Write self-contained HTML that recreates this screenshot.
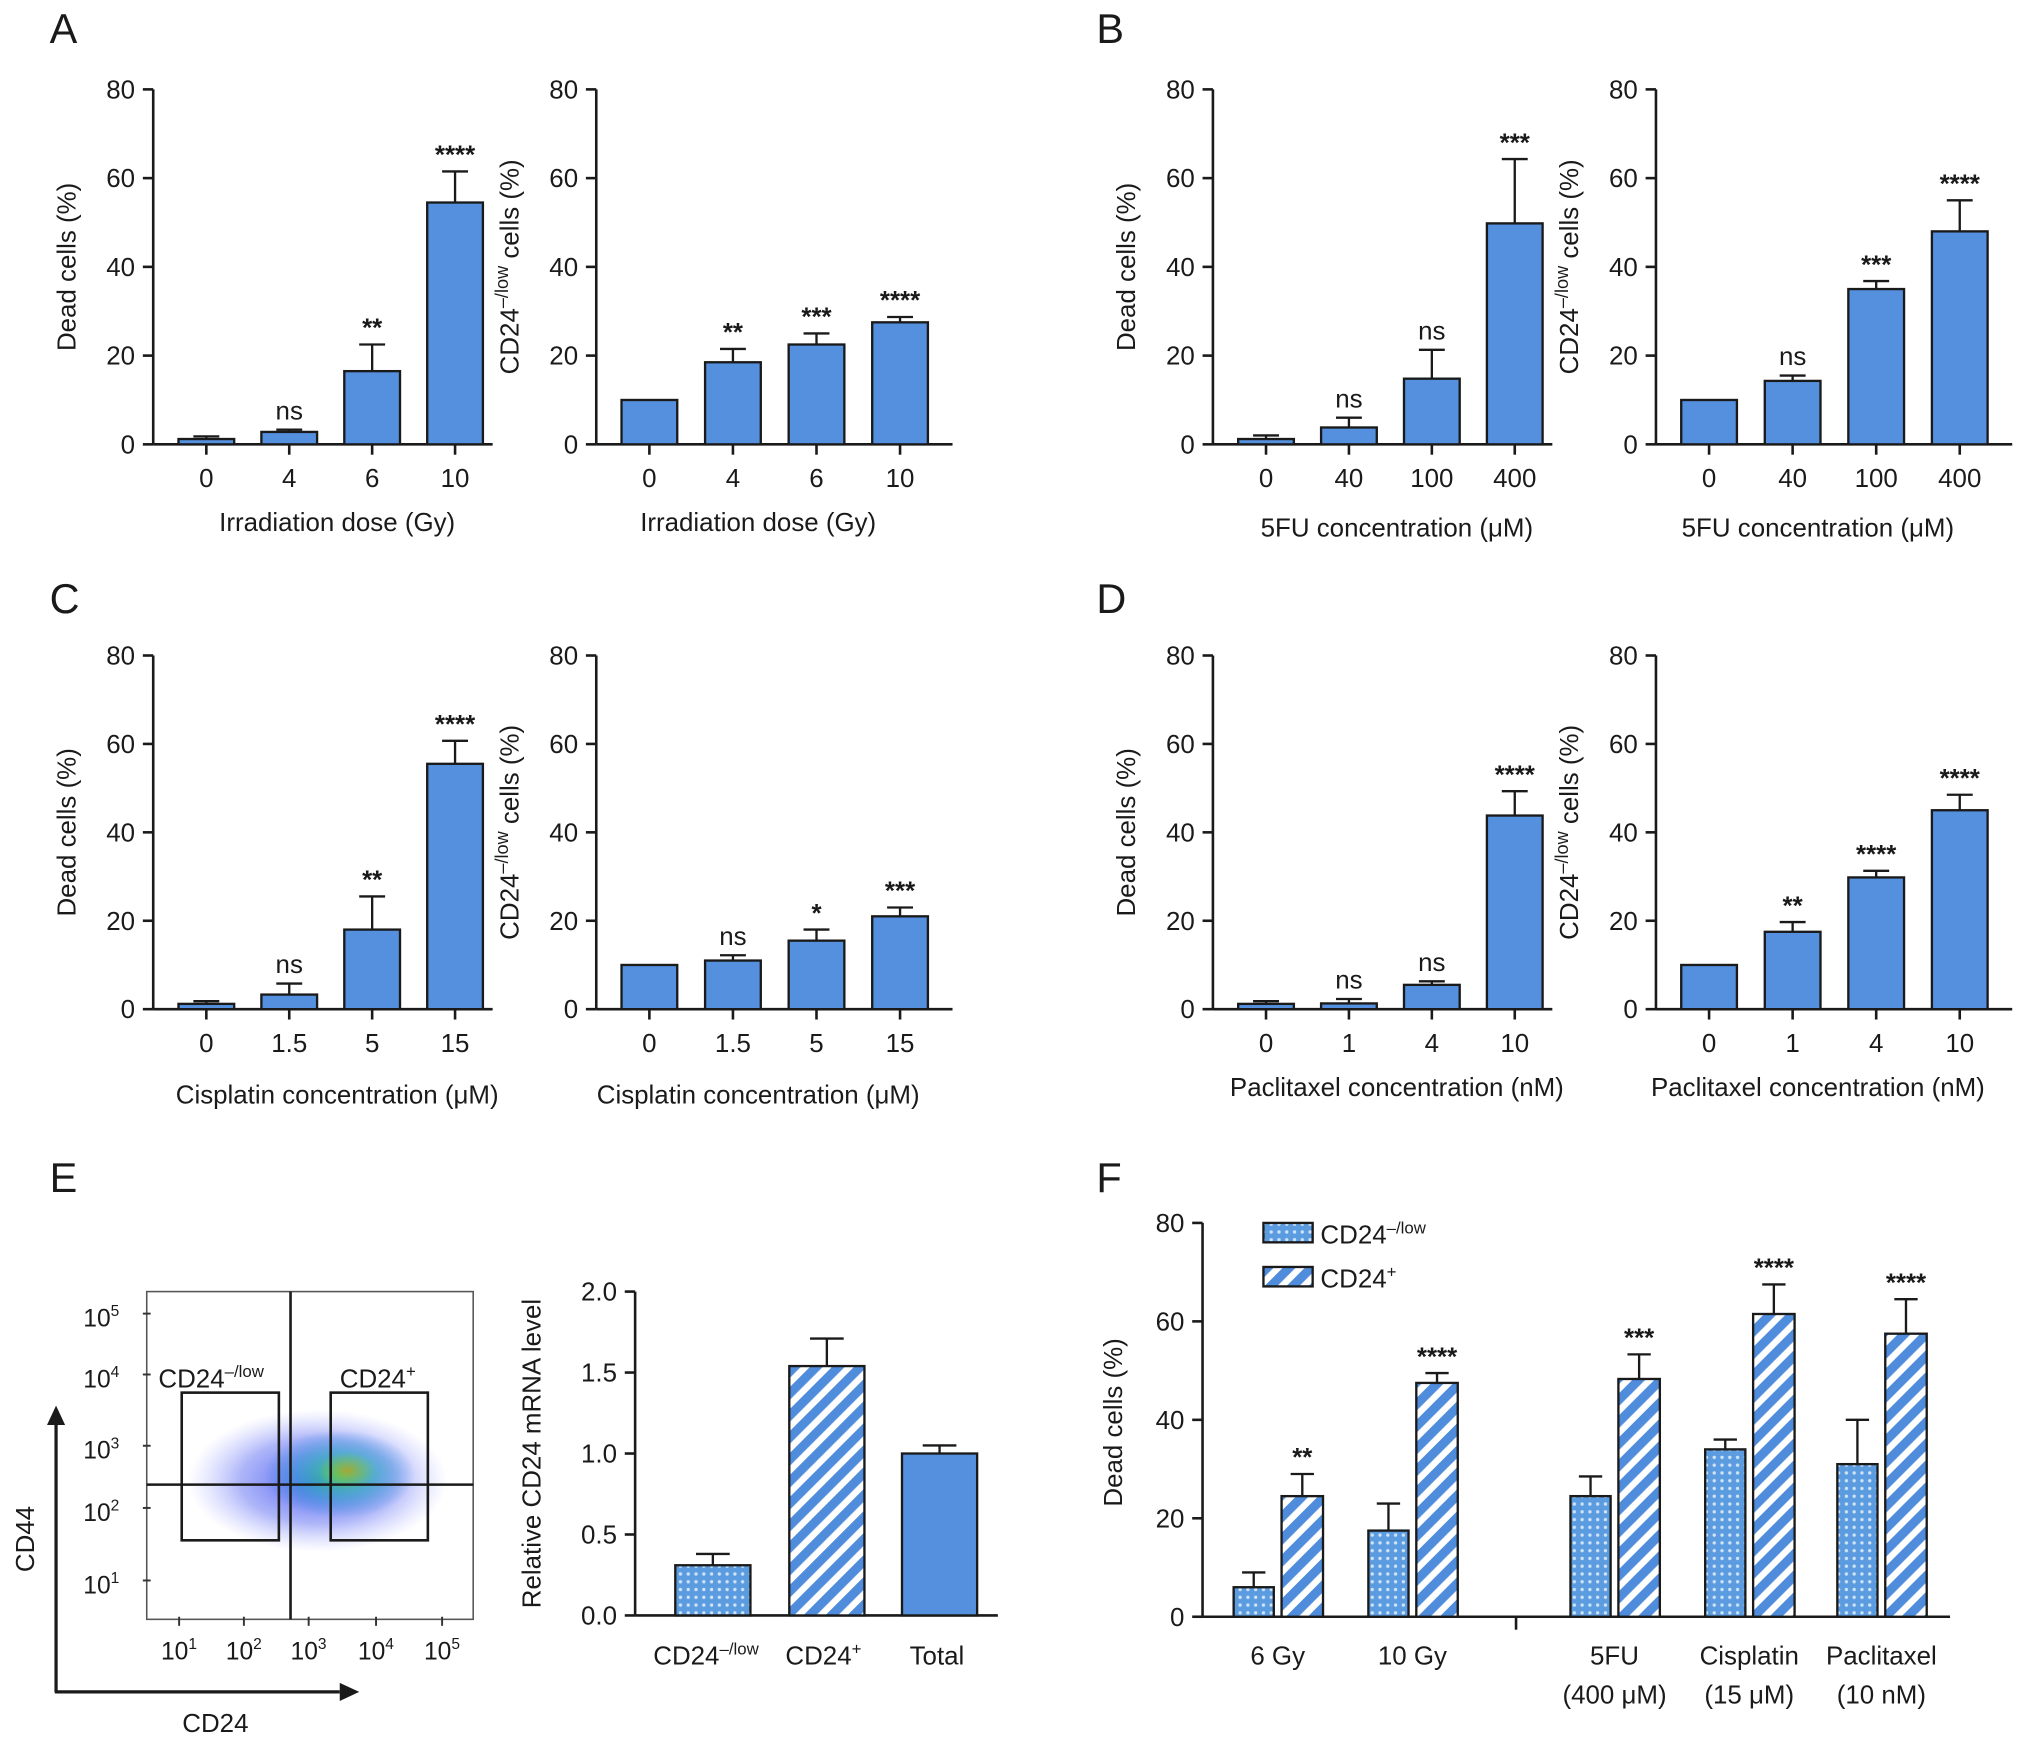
<!DOCTYPE html>
<html><head><meta charset="utf-8"><style>
html,body{margin:0;padding:0;background:#fff}
svg{display:block}
text{font-family:"Liberation Sans",Arial,sans-serif;fill:#1a1a1a}
</style></head><body>
<svg id="fig" width="2032" height="1745" viewBox="0 0 1568 1347" xmlns="http://www.w3.org/2000/svg">
<defs>
<pattern id="dots" patternUnits="userSpaceOnUse" width="6" height="6">
<rect width="6" height="6" fill="#5b9be0"/><circle cx="3" cy="3" r="1.3" fill="#cfe3f7"/>
</pattern>
<pattern id="hatch" patternUnits="userSpaceOnUse" width="12" height="12" patternTransform="rotate(45)">
<rect width="12" height="12" fill="#ffffff"/><rect width="7" height="12" fill="#4f8ddc"/>
</pattern>
<radialGradient id="gBlue"><stop offset="0" stop-color="#2a3cf0" stop-opacity="0.85"/><stop offset="0.6" stop-color="#4a5cf0" stop-opacity="0.45"/><stop offset="1" stop-color="#8a90ff" stop-opacity="0"/></radialGradient>
<radialGradient id="gCyan"><stop offset="0" stop-color="#3fd070" stop-opacity="0.95"/><stop offset="0.5" stop-color="#30b0c0" stop-opacity="0.6"/><stop offset="1" stop-color="#2080e0" stop-opacity="0"/></radialGradient>
<radialGradient id="gCore"><stop offset="0" stop-color="#c0a020" stop-opacity="0.8"/><stop offset="1" stop-color="#80d040" stop-opacity="0"/></radialGradient>
</defs>
<g id="root"></g>
</svg>
<script>
// ---------- data ----------
const catA = ["0","4","6","10"];
const deadA = [1.2, 2.8, 16.5, 54.5];
const deadAErr = [0.6, 0.5, 6, 7];
const deadASig = ["", "ns", "**", "****"];
const lowA = [10, 18.5, 22.5, 27.5];
const lowAErr = [0, 3, 2.5, 1.2];
const lowASig = ["", "**", "***", "****"];

const catB = ["0","40","100","400"];
const deadB = [1.2, 3.8, 14.8, 49.8];
const deadBErr = [0.8, 2.2, 6.5, 14.5];
const deadBSig = ["", "ns", "ns", "***"];
const lowB = [10, 14.3, 35, 48];
const lowBErr = [0, 1.2, 1.8, 7];
const lowBSig = ["", "ns", "***", "****"];

const catC = ["0","1.5","5","15"];
const deadC = [1.2, 3.3, 18, 55.5];
const deadCErr = [0.6, 2.5, 7.5, 5.2];
const deadCSig = ["", "ns", "**", "****"];
const lowC = [10, 11, 15.5, 21];
const lowCErr = [0, 1.2, 2.5, 2];
const lowCSig = ["", "ns", "*", "***"];

const catD = ["0","1","4","10"];
const deadD = [1.2, 1.3, 5.5, 43.8];
const deadDErr = [0.6, 1, 0.8, 5.5];
const deadDSig = ["", "ns", "ns", "****"];
const lowD = [10, 17.5, 29.8, 45];
const lowDErr = [0, 2.2, 1.5, 3.5];
const lowDSig = ["", "**", "****", "****"];

const yTicks80 = [0, 20, 40, 60, 80];

const catE = ["CD24–/low", "CD24+", "Total"];
const mrnaE = [0.31, 1.54, 1.0];
const mrnaEErr = [0.07, 0.17, 0.05];
const yTicksE = [0, 0.5, 1.0, 1.5, 2.0];

const catF = ["6 Gy", "10 Gy", "5FU", "Cisplatin", "Paclitaxel"];
const catF2 = ["", "", "(400 μM)", "(15 μM)", "(10 nM)"];
const fLow = [6, 17.5, 24.5, 34, 31];
const fLowErr = [3, 5.5, 4, 2, 9];
const fPos = [24.5, 47.5, 48.3, 61.5, 57.5];
const fPosErr = [4.5, 2, 5, 6, 7];
const fSig = ["**", "****", "***", "****", "****"];

// ---------- helpers ----------
const NS = "http://www.w3.org/2000/svg";
const root = document.getElementById("root");
function el(tag, attrs, parent, txt) {
  const e = document.createElementNS(NS, tag);
  for (const k in attrs) e.setAttribute(k, attrs[k]);
  if (txt !== undefined) e.textContent = txt;
  (parent || root).appendChild(e);
  return e;
}
const BAR = "#5490de";
function errBar(g, cx, yTop, yErr, w) {
  if (yErr >= yTop - 0.5) return;
  const l = el("line", {x1: cx, x2: cx, y1: yTop, y2: yErr, stroke: "#1a1a1a", "stroke-width": 1.8}, g);
  
  
  const c = el("line", {x1: cx - w, x2: cx + w, y1: yErr, y2: yErr, stroke: "#1a1a1a", "stroke-width": 1.8}, g);
  
  
}

function barChart(o) {
  const g = el("g", {}, root);
  
  
  const y = v => o.y0 - (v / o.ymax) * (o.y0 - o.ytop);
  const x = i => o.x0 + o.first + i * o.step;
  // y axis
  el("line", {x1: o.ax, x2: o.ax, y1: o.ytop, y2: o.y0, stroke: "#1a1a1a", "stroke-width": 2}, g);
  o.ticks.forEach(t => {
    el("line", {x1: o.ax - 8, x2: o.ax, y1: y(t), y2: y(t), stroke: "#1a1a1a", "stroke-width": 2}, g);
    const tl = el("text", {x: o.ax - 14, y: y(t) + 7, "text-anchor": "end", "font-size": 20}, g, o.fmt ? o.fmt(t) : String(t));
    
    
  });
  // x axis
  el("line", {x1: o.ax, x2: o.axEnd, y1: o.y0, y2: o.y0, stroke: "#1a1a1a", "stroke-width": 2}, g);
  o.cats.forEach((c, i) => {
    el("line", {x1: x(i), x2: x(i), y1: o.y0, y2: o.y0 + 8, stroke: "#1a1a1a", "stroke-width": 2}, g);
    const v = o.vals[i];
    const b = el("rect", {x: x(i) - o.bw / 2, y: y(v), width: o.bw, height: o.y0 - y(v), fill: BAR, stroke: "#1a1a1a", "stroke-width": 1.8}, g);
    
    
    errBar(g, x(i), y(v), y(v + o.errs[i]), 10);
    if (o.sig[i]) {
      const isNs = o.sig[i] === "ns";
      const s = el("text", {x: x(i), y: y(v + o.errs[i]) - (isNs ? 8 : 6), "text-anchor": "middle", "font-size": isNs ? 20 : 20, "font-weight": isNs ? "normal" : "bold"}, g, o.sig[i]);
      
      
    }
    const tl = el("text", {x: x(i), y: o.y0 + 33, "text-anchor": "middle", "font-size": 20}, g, c);
    
    
  });
  const xt = el("text", {x: o.xtX, y: o.xtY, "text-anchor": "middle", "font-size": 20}, g, o.xtitle);
  
  
  const yt = el("text", {x: 0, y: 0, "text-anchor": "middle", "font-size": 20, transform: `translate(${o.ytX},${(o.ytop + o.y0) / 2}) rotate(-90)`}, g);
  
  
  if (o.ylow) {
    el("tspan", {}, yt, "CD24");
    el("tspan", {dy: -8, "font-size": 14}, yt, "–/low");
    el("tspan", {dy: 8}, yt, " cells (%)");
  } else yt.textContent = o.ytitle;
}

function letter(t, x, y) {
  const l = el("text", {x: x, y: y, "font-size": 32}, root, t);
  
  
}

// ---------- panels A-D ----------
letter("A", 38, 33); letter("B", 846, 33); letter("C", 38, 473); letter("D", 846, 473);
letter("E", 38, 920); letter("F", 846, 920);

const rowDefs = [
  {y0: 343, ytop: 69},
  {y0: 779, ytop: 506}
];
function pair(rowIdx, leftAx, cats, dv, de, ds, lv, le, ls, title, titleY, nameP) {
  const r = rowDefs[rowIdx];
  barChart({name: "panel-" + nameP + "-dead-cells-chart", ax: leftAx, axEnd: leftAx + 262, x0: leftAx, first: 41, step: 64, bw: 43,
    y0: r.y0, ytop: r.ytop, ymax: 80, ticks: yTicks80, cats: cats, vals: dv, errs: de, sig: ds,
    xtitle: title, xtX: leftAx + 142, xtY: titleY, ytitle: "Dead cells (%)", ytX: leftAx - 60});
  const ax2 = leftAx + (leftAx > 500 ? 342 : 342);
  barChart({name: "panel-" + nameP + "-cd24-low-chart", ax: ax2, axEnd: ax2 + 275, x0: ax2, first: 41, step: 64.5, bw: 43,
    y0: r.y0, ytop: r.ytop, ymax: 80, ticks: yTicks80, cats: cats, vals: lv, errs: le, sig: ls,
    xtitle: title, xtX: ax2 + 125, xtY: titleY, ylow: true, ytX: ax2 - 60});
}
pair(0, 118, catA, deadA, deadAErr, deadASig, lowA, lowAErr, lowASig, "Irradiation dose (Gy)", 410, "a");
pair(0, 936, catB, deadB, deadBErr, deadBSig, lowB, lowBErr, lowBSig, "5FU concentration (μM)", 414, "b");
pair(1, 118, catC, deadC, deadCErr, deadCSig, lowC, lowCErr, lowCSig, "Cisplatin concentration (μM)", 852, "c");
pair(1, 936, catD, deadD, deadDErr, deadDSig, lowD, lowDErr, lowDSig, "Paclitaxel concentration (nM)", 846, "d");

// ---------- panel E flow plot ----------
(function(){
  const g = el("g", {}, root);
  
  
  el("rect", {x: 113, y: 997, width: 252, height: 253, fill: "none", stroke: "#555", "stroke-width": 1.2}, g);
  el("ellipse", {cx: 245, cy: 1143, rx: 100, ry: 55, fill: "url(#gBlue)"}, g);
  el("ellipse", {cx: 262, cy: 1138, rx: 58, ry: 34, fill: "url(#gCyan)"}, g);
  el("ellipse", {cx: 268, cy: 1135, rx: 22, ry: 14, fill: "url(#gCore)"}, g);
  el("line", {x1: 224, x2: 224, y1: 997, y2: 1250, stroke: "#1a1a1a", "stroke-width": 2}, g);
  el("line", {x1: 113, x2: 365, y1: 1146, y2: 1146, stroke: "#1a1a1a", "stroke-width": 2}, g);
  const g1 = el("rect", {x: 140, y: 1075, width: 75, height: 114, fill: "none", stroke: "#1a1a1a", "stroke-width": 2}, g);
  
  
  const g2 = el("rect", {x: 255, y: 1075, width: 75, height: 114, fill: "none", stroke: "#1a1a1a", "stroke-width": 2}, g);
  
  
  const t1 = el("text", {x: 122, y: 1071, "font-size": 20}, g);
  el("tspan", {}, t1, "CD24"); el("tspan", {dy: -8, "font-size": 13}, t1, "–/low");
   
  const t2 = el("text", {x: 262, y: 1071, "font-size": 20}, g);
  el("tspan", {}, t2, "CD24"); el("tspan", {dy: -8, "font-size": 13}, t2, "+");
   
  const yE = [5,4,3,2,1], yPos = [1024, 1071, 1126, 1174, 1230];
  yE.forEach((e,i)=>{
    const t = el("text", {x: 64, y: yPos[i], "font-size": 19}, g);
    el("tspan", {}, t, "10"); el("tspan", {dy: -8, "font-size": 12}, t, String(e));
     
    el("line", {x1: 110, x2: 116, y1: yPos[i] - 10, y2: yPos[i] - 10, stroke: "#333", "stroke-width": 1.5}, g);
  });
  const xPos = [140, 190, 240, 292, 343];
  [1,2,3,4,5].forEach((e,i)=>{
    const t = el("text", {x: xPos[i] - 16, y: 1281, "font-size": 19}, g);
    el("tspan", {}, t, "10"); el("tspan", {dy: -8, "font-size": 12}, t, String(e));
     
    el("line", {x1: xPos[i]-2, x2: xPos[i]-2, y1: 1248, y2: 1255, stroke: "#333", "stroke-width": 1.5}, g);
  });
  el("line", {x1: 43, x2: 43, y1: 1306, y2: 1100, stroke: "#1a1a1a", "stroke-width": 2.5}, g);
  el("polygon", {points: "36,1100 50,1100 43,1085", fill: "#1a1a1a"}, g);
  el("line", {x1: 42, x2: 262, y1: 1306, y2: 1306, stroke: "#1a1a1a", "stroke-width": 2.5}, g);
  el("polygon", {points: "262,1299 262,1313 277,1306", fill: "#1a1a1a"}, g);
  const c44 = el("text", {x: 0, y: 0, "text-anchor": "middle", "font-size": 20, transform: "translate(26,1188) rotate(-90)"}, g, "CD44");
   
  const c24 = el("text", {x: 166, y: 1337, "text-anchor": "middle", "font-size": 20}, g, "CD24");
   
})();

// ---------- panel E bar chart ----------
(function(){
  const g = el("g", {}, root);
  
  
  const ax = 490, y0 = 1247, ytop = 997, ymax = 2.0;
  const y = v => y0 - v / ymax * (y0 - ytop);
  const xc = [550, 638, 725];
  const fills = ["url(#dots)", "url(#hatch)", BAR];
  el("line", {x1: ax, x2: ax, y1: ytop, y2: y0, stroke: "#1a1a1a", "stroke-width": 2}, g);
  yTicksE.forEach(t=>{
    el("line", {x1: ax - 8, x2: ax, y1: y(t), y2: y(t), stroke: "#1a1a1a", "stroke-width": 2}, g);
    const tl = el("text", {x: ax - 14, y: y(t) + 7, "text-anchor": "end", "font-size": 20}, g, t.toFixed(1));
     
  });
  el("line", {x1: ax, x2: 770, y1: y0, y2: y0, stroke: "#1a1a1a", "stroke-width": 2}, g);
  catE.forEach((c,i)=>{
    const v = mrnaE[i];
    const b = el("rect", {x: xc[i] - 29, y: y(v), width: 58, height: y0 - y(v), fill: fills[i], stroke: "#1a1a1a", "stroke-width": 1.8}, g);
    
    
    errBar(g, xc[i], y(v), y(v + mrnaEErr[i]), 13);
  });
  const l1 = el("text", {x: 504, y: 1285, "font-size": 20}, g);
  el("tspan", {}, l1, "CD24"); el("tspan", {dy: -8, "font-size": 13}, l1, "–/low");
   
  const l2 = el("text", {x: 606, y: 1285, "font-size": 20}, g);
  el("tspan", {}, l2, "CD24"); el("tspan", {dy: -8, "font-size": 13}, l2, "+");
   
  const l3 = el("text", {x: 723, y: 1285, "text-anchor": "middle", "font-size": 20}, g, catE[2]);
   
  const yt = el("text", {x: 0, y: 0, "text-anchor": "middle", "font-size": 20, transform: "translate(417,1122) rotate(-90)"}, g, "Relative CD24 mRNA level");
   
})();

// ---------- panel F ----------
(function(){
  const g = el("g", {}, root);
  
  
  const ax = 928, y0 = 1248, ytop = 944, ymax = 80;
  const y = v => y0 - v / ymax * (y0 - ytop);
  const centers = [986, 1090, 1246, 1350, 1452];
  el("line", {x1: ax, x2: ax, y1: ytop, y2: y0, stroke: "#1a1a1a", "stroke-width": 2}, g);
  yTicks80.forEach(t=>{
    el("line", {x1: ax - 8, x2: ax, y1: y(t), y2: y(t), stroke: "#1a1a1a", "stroke-width": 2}, g);
    const tl = el("text", {x: ax - 14, y: y(t) + 7, "text-anchor": "end", "font-size": 20}, g, String(t));
     
  });
  el("line", {x1: ax, x2: 1505, y1: y0, y2: y0, stroke: "#1a1a1a", "stroke-width": 2}, g);
  el("line", {x1: 1170, x2: 1170, y1: y0, y2: y0 + 10, stroke: "#1a1a1a", "stroke-width": 2}, g);
  catF.forEach((c,i)=>{
    const cx = centers[i];
    const a = el("rect", {x: cx - 34, y: y(fLow[i]), width: 31, height: y0 - y(fLow[i]), fill: "url(#dots)", stroke: "#1a1a1a", "stroke-width": 1.8}, g);
     
    errBar(g, cx - 18.5, y(fLow[i]), y(fLow[i] + fLowErr[i]), 9);
    const b = el("rect", {x: cx + 3, y: y(fPos[i]), width: 32, height: y0 - y(fPos[i]), fill: "url(#hatch)", stroke: "#1a1a1a", "stroke-width": 1.8}, g);
     
    errBar(g, cx + 19, y(fPos[i]), y(fPos[i] + fPosErr[i]), 9);
    const s = el("text", {x: cx + 19, y: y(fPos[i] + fPosErr[i]) - 6, "text-anchor": "middle", "font-size": 20, "font-weight": "bold"}, g, fSig[i]);
     
    const t = el("text", {x: cx, y: 1285, "text-anchor": "middle", "font-size": 20}, g, c);
     
    if (catF2[i]) {
      const t2 = el("text", {x: cx, y: 1315, "text-anchor": "middle", "font-size": 20}, g, catF2[i]);
       
    }
  });
  const yt = el("text", {x: 0, y: 0, "text-anchor": "middle", "font-size": 20, transform: "translate(866,1098) rotate(-90)"}, g, "Dead cells (%)");
   
  // legend
  const lg = el("g", {}, g);
  
  
  const le1 = el("rect", {x: 975, y: 944, width: 38, height: 15, fill: "url(#dots)", stroke: "#1a1a1a", "stroke-width": 1.8}, lg);
   
  const lt1 = el("text", {x: 1019, y: 960, "font-size": 20}, lg);
  el("tspan", {}, lt1, "CD24"); el("tspan", {dy: -8, "font-size": 13}, lt1, "–/low");
   
  const le2 = el("rect", {x: 975, y: 978, width: 38, height: 15, fill: "url(#hatch)", stroke: "#1a1a1a", "stroke-width": 1.8}, lg);
   
  const lt2 = el("text", {x: 1019, y: 994, "font-size": 20}, lg);
  el("tspan", {}, lt2, "CD24"); el("tspan", {dy: -8, "font-size": 13}, lt2, "+");
   
})();
</script>
</body></html>
